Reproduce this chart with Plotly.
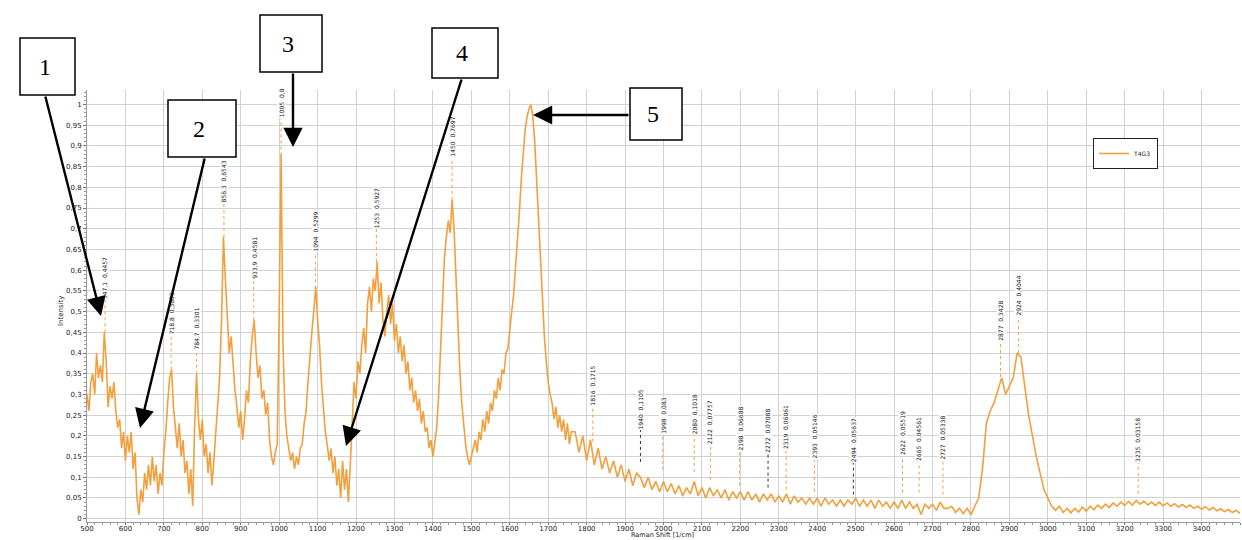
import plotly.graph_objects as go

# ---------------- data ----------------
shift_low = [
    500, 505, 510, 515, 520, 525, 530, 535, 540, 545,
    550, 555, 560, 565, 570, 575, 580, 585, 590, 595,
    600, 605, 610, 615, 620, 625, 630, 635, 640, 645,
    650, 655, 660, 665, 670, 675, 680, 685, 690, 695,
    700, 705, 710, 715, 720, 725, 730, 735, 740, 745,
    750, 755, 760, 765, 770, 775, 780, 785, 790, 795,
    800, 805, 810, 815, 820, 825, 830, 835, 840, 845,
    850, 855, 860, 865, 870, 875, 880, 885, 890, 895,
    900, 905, 910, 915, 920, 925, 930, 935, 940, 945,
    950, 955, 960, 965, 970, 975, 980, 985, 990, 995,
    1000, 1005, 1010, 1015, 1020, 1025, 1030, 1035, 1040, 1045,
    1050, 1055, 1060, 1065, 1070, 1075, 1080, 1085, 1090, 1095,
    1100, 1105, 1110, 1115, 1120, 1125, 1130, 1135, 1140, 1145,
    1150, 1155, 1160, 1165, 1170, 1175, 1180, 1185, 1190, 1195,
    1200, 1205, 1210, 1215, 1220, 1225, 1230, 1235, 1240, 1245,
    1250, 1255, 1260, 1265, 1270, 1275, 1280, 1285, 1290, 1295,
    1300, 1305, 1310, 1315, 1320, 1325, 1330, 1335, 1340, 1345,
    1350, 1355, 1360, 1365, 1370, 1375, 1380, 1385, 1390, 1395,
    1400, 1405, 1410, 1415, 1420, 1425, 1430, 1435, 1440, 1445,
    1450, 1455, 1460, 1465, 1470, 1475, 1480, 1485, 1490, 1495,
    1500, 1505, 1510, 1515, 1520, 1525, 1530, 1535, 1540, 1545,
    1550, 1555, 1560, 1565, 1570, 1575, 1580, 1585, 1590, 1595,
    1600, 1605, 1610, 1615, 1620, 1625, 1630, 1635, 1640, 1645,
    1650, 1655, 1660, 1665, 1670, 1675, 1680, 1685, 1690, 1695,
    1700, 1705, 1710, 1715, 1720, 1725, 1730, 1735, 1740, 1745,
    1750, 1755, 1760,
]
intensity_low = [
    0.30, 0.26, 0.33, 0.35, 0.30, 0.40, 0.34, 0.37, 0.33, 0.45,
    0.38, 0.27, 0.32, 0.29, 0.33, 0.26, 0.22, 0.24, 0.17, 0.21,
    0.14, 0.20, 0.16, 0.21, 0.12, 0.16, 0.05, 0.01, 0.07, 0.04,
    0.11, 0.07, 0.13, 0.08, 0.15, 0.09, 0.13, 0.06, 0.11, 0.08,
    0.16, 0.21, 0.28, 0.34, 0.36, 0.27, 0.22, 0.17, 0.23, 0.15,
    0.19, 0.11, 0.14, 0.06, 0.12, 0.03, 0.22, 0.35, 0.24, 0.19,
    0.24, 0.15, 0.18, 0.11, 0.16, 0.08, 0.14, 0.20, 0.27, 0.34,
    0.48, 0.68, 0.58, 0.50, 0.40, 0.44, 0.36, 0.31, 0.27, 0.22,
    0.26, 0.19, 0.24, 0.31, 0.28, 0.38, 0.44, 0.48, 0.40, 0.34,
    0.37, 0.29, 0.31, 0.25, 0.28, 0.19, 0.15, 0.13, 0.16, 0.18,
    0.50, 0.88, 0.42, 0.26, 0.20, 0.17, 0.14, 0.16, 0.12, 0.15,
    0.13, 0.17, 0.18, 0.23, 0.26, 0.33, 0.40, 0.45, 0.50, 0.56,
    0.48, 0.42, 0.33, 0.26, 0.21, 0.18, 0.14, 0.17, 0.11, 0.15,
    0.08, 0.12, 0.05, 0.14, 0.07, 0.12, 0.04, 0.13, 0.22, 0.33,
    0.29, 0.38, 0.35, 0.42, 0.46, 0.40, 0.52, 0.56, 0.50, 0.58,
    0.55, 0.62, 0.52, 0.57, 0.48, 0.44, 0.50, 0.54, 0.47, 0.52,
    0.43, 0.47, 0.40, 0.44, 0.38, 0.42, 0.35, 0.38, 0.31, 0.34,
    0.28, 0.31, 0.26, 0.29, 0.23, 0.26, 0.21, 0.22, 0.17, 0.19,
    0.15, 0.18, 0.22, 0.30, 0.42, 0.55, 0.63, 0.68, 0.72, 0.69,
    0.77, 0.70, 0.58, 0.48, 0.36, 0.28, 0.22, 0.18, 0.15, 0.13,
    0.15, 0.17, 0.19, 0.16, 0.21, 0.19, 0.24, 0.21, 0.26, 0.23,
    0.28, 0.26, 0.31, 0.29, 0.34, 0.31, 0.36, 0.35, 0.40, 0.41,
    0.46, 0.50, 0.54, 0.60, 0.67, 0.74, 0.82, 0.89, 0.94, 0.97,
    0.99, 1.00, 0.97, 0.91, 0.82, 0.72, 0.62, 0.52, 0.44, 0.38,
    0.33, 0.30, 0.28, 0.24, 0.27, 0.22, 0.25, 0.21, 0.24, 0.19,
    0.23, 0.18, 0.21,
]
shift_high = [
    1770, 1780, 1790, 1800, 1810, 1820, 1830, 1840, 1850, 1860,
    1870, 1880, 1890, 1900, 1910, 1920, 1930, 1940, 1950, 1960,
    1970, 1980, 1990, 2000, 2010, 2020, 2030, 2040, 2050, 2060,
    2070, 2080, 2090, 2100, 2110, 2120, 2130, 2140, 2150, 2160,
    2170, 2180, 2190, 2200, 2210, 2220, 2230, 2240, 2250, 2260,
    2270, 2280, 2290, 2300, 2310, 2320, 2330, 2340, 2350, 2360,
    2370, 2380, 2390, 2400, 2410, 2420, 2430, 2440, 2450, 2460,
    2470, 2480, 2490, 2500, 2510, 2520, 2530, 2540, 2550, 2560,
    2570, 2580, 2590, 2600, 2610, 2620, 2630, 2640, 2650, 2660,
    2670, 2680, 2690, 2700, 2710, 2720, 2730, 2740, 2750, 2760,
    2770, 2780, 2790, 2800, 2810, 2820, 2830, 2840, 2850, 2860,
    2870, 2880, 2890, 2900, 2910, 2920, 2930, 2940, 2950, 2960,
    2970, 2980, 2990, 3000, 3010, 3020, 3030, 3040, 3050, 3060,
    3070, 3080, 3090, 3100, 3110, 3120, 3130, 3140, 3150, 3160,
    3170, 3180, 3190, 3200, 3210, 3220, 3230, 3240, 3250, 3260,
    3270, 3280, 3290, 3300, 3310, 3320, 3330, 3340, 3350, 3360,
    3370, 3380, 3390, 3400, 3410, 3420, 3430, 3440, 3450, 3460,
    3470, 3480, 3490, 3500,
]
intensity_high = [
    0.21, 0.16, 0.20, 0.14, 0.19, 0.13, 0.17, 0.12, 0.15, 0.11,
    0.14, 0.10, 0.13, 0.09, 0.12, 0.08, 0.11, 0.10, 0.075, 0.10,
    0.07, 0.09, 0.065, 0.09, 0.065, 0.085, 0.06, 0.08, 0.055, 0.075,
    0.06, 0.09, 0.055, 0.075, 0.05, 0.075, 0.055, 0.07, 0.05, 0.07,
    0.045, 0.065, 0.05, 0.065, 0.045, 0.065, 0.045, 0.06, 0.04, 0.06,
    0.045, 0.06, 0.04, 0.055, 0.04, 0.06, 0.035, 0.055, 0.04, 0.05,
    0.035, 0.05, 0.035, 0.05, 0.03, 0.05, 0.035, 0.045, 0.03, 0.045,
    0.03, 0.045, 0.035, 0.05, 0.03, 0.045, 0.03, 0.045, 0.025, 0.045,
    0.03, 0.04, 0.025, 0.04, 0.025, 0.045, 0.025, 0.04, 0.025, 0.035,
    0.01, 0.035, 0.025, 0.035, 0.02, 0.04, 0.025, 0.025, 0.03, 0.015,
    0.025, 0.012, 0.025, 0.01, 0.03, 0.05, 0.12, 0.23, 0.26, 0.28,
    0.31, 0.34, 0.30, 0.32, 0.34, 0.40, 0.39, 0.32, 0.25, 0.20,
    0.15, 0.11, 0.07, 0.05, 0.03, 0.02, 0.03, 0.015, 0.025, 0.014,
    0.025, 0.016, 0.028, 0.018, 0.03, 0.022, 0.033, 0.025, 0.035, 0.027,
    0.038, 0.03, 0.04, 0.032, 0.042, 0.033, 0.044, 0.035, 0.042, 0.033,
    0.04, 0.032, 0.04, 0.031, 0.038, 0.03, 0.036, 0.028, 0.034, 0.027,
    0.033, 0.025, 0.03, 0.023, 0.029, 0.021, 0.027, 0.019, 0.024, 0.017,
    0.022, 0.015, 0.02, 0.013,
]

# peak markers
peak_pos = [547.1, 718.8, 784.7, 856.3, 933.9, 1005, 1094, 1253, 1450, 1816,
            1940, 1998, 2080, 2122, 2198, 2272, 2319, 2393, 2494, 2622,
            2665, 2727, 2877, 2924, 3235]
peak_pos_text = ["547,1", "718,8", "784,7", "856,3", "933,9", "1005", "1094", "1253",
                 "1450", "1816", "1940", "1998", "2080", "2122", "2198", "2272",
                 "2319", "2393", "2494", "2622", "2665", "2727", "2877", "2924", "3235"]
peak_val_text = ["0,4457", "0,3603", "0,3301", "0,6543", "0,4581", "0,8", "0,5299",
                 "0,5927", "0,7697", "0,1715", "0,1105", "0,083", "0,1018", "0,07757",
                 "0,06688", "0,07088", "0,06061", "0,05146", "0,05637", "0,05519",
                 "0,04561", "0,05338", "0,3428", "0,4044", "0,03158"]
peak_top = [0.45, 0.36, 0.35, 0.68, 0.48, 0.877, 0.556, 0.62, 0.77, 0.186,
            0.137, 0.118, 0.113, 0.094, 0.08, 0.075, 0.07, 0.065, 0.058, 0.063,
            0.063, 0.058, 0.342, 0.40, 0.06]
label_base = [0.528, 0.443, 0.407, 0.761, 0.576, 0.966, 0.643, 0.70, 0.872, 0.27,
              0.214, 0.202, 0.202, 0.178, 0.161, 0.157, 0.166, 0.142, 0.135, 0.15,
              0.137, 0.14, 0.426, 0.487, 0.135]

y_ticks = [round(i * 0.05, 2) for i in range(21)]
y_tick_text = [("%g" % v).replace(".", ",") for v in y_ticks]
x_ticks = list(range(500, 3501, 100))
x_tick_text = [str(v) for v in x_ticks]

callout_labels = ["1", "2", "3", "4", "5"]

# ---------------- styling / layout ----------------
ORANGE = "#F2A03D"
GRID = "#d2d2d2"
W, H = 1242, 540
L, R, T, B = 87, 1240, 90, 522


def px(x):
    return (x - L) / (R - L)


def py(y):
    return (B - y) / (B - T)


wavenumber = shift_low + shift_high
intensity = intensity_low + intensity_high

fig = go.Figure()
fig.add_trace(go.Scatter(
    x=wavenumber, y=intensity, mode="lines", name="T4G3",
    line=dict(color=ORANGE, width=1.6),
))

shapes = []
annotations = []

dark_lines = {"1940", "2272", "2494"}
for xp, xt, vt, top, base in zip(peak_pos, peak_pos_text, peak_val_text, peak_top, label_base):
    shapes.append(dict(
        type="line", xref="x", yref="y", x0=xp, x1=xp, y0=top, y1=base,
        line=dict(color="#333333" if xt in dark_lines else ORANGE, width=1, dash="dot"),
        layer="above",
    ))
    annotations.append(dict(
        x=xp, y=base, xref="x", yref="y", text=f"{xt}  {vt}", textangle=-90,
        showarrow=False, xanchor="center", yanchor="bottom",
        font=dict(family="DejaVu Sans", size=6, color="#111111"),
        bgcolor="white", borderpad=0,
    ))

# callout boxes (pixel positions: left, top, right, bottom)
boxes = [(20, 38, 75, 95), (168, 100, 236, 157), (260, 15, 322, 72),
         (432, 28, 498, 78), (630, 88, 682, 140)]
for (x0, y0, x1, y1), lab in zip(boxes, callout_labels):
    shapes.append(dict(
        type="rect", xref="paper", yref="paper",
        x0=px(x0), x1=px(x1), y0=py(y1), y1=py(y0),
        line=dict(color="black", width=1.5), fillcolor="white", layer="above",
    ))
    annotations.append(dict(
        x=px((x0 + x1) / 2 - 3), y=py((y0 + y1) / 2), xref="paper", yref="paper",
        text=lab, showarrow=False, xanchor="center", yanchor="middle",
        font=dict(family="Liberation Serif", size=24, color="black"),
    ))

# arrows: (tail x, tail y, head x, head y) in pixels
arrows = [(45, 95, 101, 316), (205, 157, 140, 428), (293, 72, 293, 147),
          (462, 78, 346, 446), (630, 115, 533, 115)]
for tx, ty, hx, hy in arrows:
    annotations.append(dict(
        x=px(hx), y=py(hy), xref="paper", yref="paper",
        ax=tx - hx, ay=ty - hy, axref="pixel", ayref="pixel",
        text="", showarrow=True, arrowhead=2, arrowsize=1.6, arrowwidth=2.4,
        arrowcolor="black", standoff=0, startstandoff=0,
    ))

# axis titles
annotations.append(dict(
    x=px(55), y=py(311), xref="paper", yref="paper", text="Intensity",
    textangle=-90, showarrow=False, font=dict(family="DejaVu Sans", size=7, color="#222"),
))
annotations.append(dict(
    x=px(662), y=py(541), xref="paper", yref="paper", text="Raman Shift [1/cm]",
    showarrow=False, yanchor="bottom",
    font=dict(family="DejaVu Sans", size=6.5, color="#222"),
))

fig.update_layout(
    width=W, height=H,
    margin=dict(l=L, r=W - R, t=T, b=H - B, autoexpand=False),
    paper_bgcolor="white", plot_bgcolor="white",
    font=dict(family="DejaVu Sans", size=7, color="#222"),
    shapes=shapes, annotations=annotations,
    showlegend=True,
    legend=dict(
        x=px(1093), y=py(138), xanchor="left", yanchor="top",
        bgcolor="white", bordercolor="#222", borderwidth=1,
        font=dict(size=6, family="DejaVu Sans", color="#222"),
        itemwidth=30, tracegroupgap=0,
    ),
)
fig.update_xaxes(
    range=[500, 3500], tickvals=x_ticks, ticktext=x_tick_text,
    showgrid=True, gridcolor=GRID, gridwidth=1,
    showline=True, linecolor="#9a9a9a", linewidth=1,
    ticks="outside", ticklen=2, tickcolor="#777", ticklabelstandoff=-2,
    minor=dict(dtick=20, ticks="outside", ticklen=2, tickcolor="#999", showgrid=False),
    tickfont=dict(size=7, family="DejaVu Sans", color="#222"),
    zeroline=False,
)
fig.update_yaxes(
    range=[-0.008, 1.035], tickvals=y_ticks, ticktext=y_tick_text,
    showgrid=True, gridcolor=GRID, gridwidth=1,
    showline=True, linecolor="#9a9a9a", linewidth=1,
    ticks="outside", ticklen=3, tickcolor="#777",
    minor=dict(dtick=0.01, ticks="outside", ticklen=2, tickcolor="#999", showgrid=False),
    tickfont=dict(size=7, family="DejaVu Sans", color="#222"),
    zeroline=False,
)

fig.write_html("out.html")
